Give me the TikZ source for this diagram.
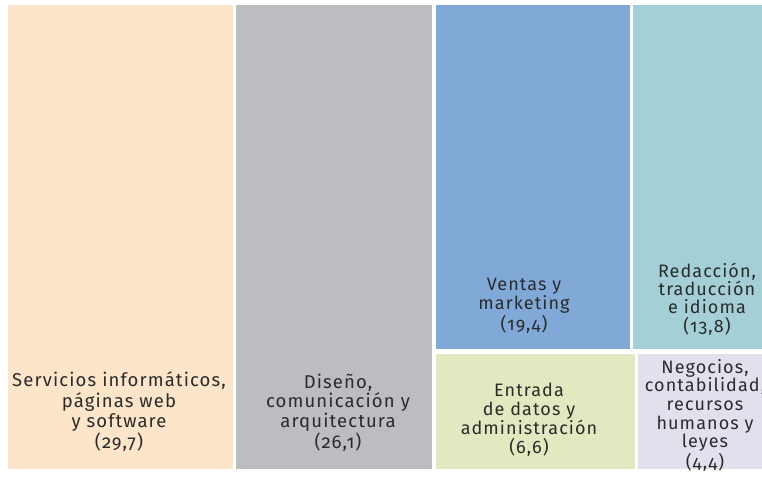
\documentclass[tikz,border=0pt]{standalone}
\usepackage{fontspec}
\setmainfont{Fira Sans}[Numbers=OldStyle, LetterSpace=6]
\usetikzlibrary{positioning}

\definecolor{peach}{HTML}{FDE5CA}
\definecolor{slate}{HTML}{BCBDC1}
\definecolor{sky}{HTML}{80A9D7}
\definecolor{teal}{HTML}{A4CFD6}
\definecolor{lime}{HTML}{E1E9C0}
\definecolor{lilac}{HTML}{E3E0EE}
\definecolor{ink}{HTML}{2B2B2B}

\tikzset{
  tile/.style={inner sep=0pt, outer sep=0pt, anchor=north west},
  tag/.style={align=center, inner sep=0pt, anchor=base, text=ink},
}

\begin{document}
\begin{tikzpicture}[x=1pt, y=-1pt]
            \useasboundingbox (0,0) rectangle (762,476);
            \clip (0,0) rectangle (762,476);

            % Tiles of the treemap
            \node [tile, fill=peach, minimum width=225pt, minimum height=464pt] (srv) at (8,5) {};
            \node [tile, fill=slate, minimum width=196pt, minimum height=464pt] (dis) at (236,5) {};
            \node [tile, fill=sky, minimum width=194pt, minimum height=344pt] (ven) at (436,5) {};
            \node [tile, fill=teal, minimum width=140pt, minimum height=344pt] (red) at (633,5) {};
            \node [tile, fill=lime, minimum width=199pt, minimum height=115pt] (ent) at (436,354) {};
            \node [tile, fill=lilac, minimum width=140pt, minimum height=115pt] (neg) at (638,354) {};

            % Labels (base = last line)
            \node [tag, font=\fontsize{18.5}{20.5}\selectfont] (srvtxt) at (119,448)
                {Servicios informáticos,\\páginas web\\y software\\(29,7)};
            \node [tag, font=\fontsize{18.5}{19.5}\selectfont] (distxt) at (338,448)
                {Diseño,\\comunicación y\\arquitectura\\(26,1)};
            \node [tag, font=\fontsize{18}{19}\selectfont] (ventxt) at (524,330)
                {Ventas y\\marketing\\(19,4)};
            \node [tag, font=\fontsize{18}{18.3}\selectfont] (redtxt) at (707,332)
                {Redacción,\\traducción\\e idioma\\(13,8)};
            \node [tag, font=\fontsize{18}{18.7}\selectfont] (enttxt) at (529,453)
                {Entrada\\de datos y\\administración\\(6,6)};
            \node [tag, font=\fontsize{18}{18.7}\selectfont] (negtxt) at (705,468)
                {Negocios,\\contabilidad,\\recursos\\humanos y\\leyes\\(4,4)};
\end{tikzpicture}
\end{document}
